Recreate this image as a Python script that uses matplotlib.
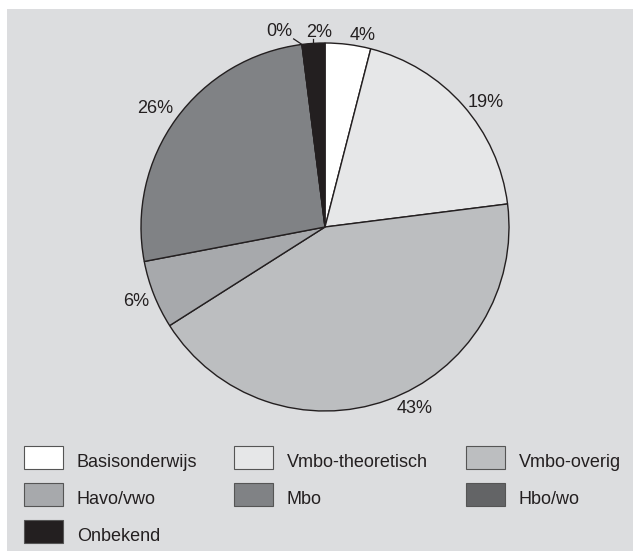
import numpy as np
import matplotlib.pyplot as plt
from matplotlib.patches import Rectangle

plt.rcParams['font.family'] = ['Liberation Sans', 'DejaVu Sans']

# Data
categories = ["Basisonderwijs", "Vmbo-theoretisch", "Vmbo-overig",
              "Havo/vwo", "Mbo", "Hbo/wo", "Onbekend"]
shares = [4, 19, 43, 6, 26, 0, 2]
colors = ["#ffffff", "#e6e7e8", "#bcbec0", "#a7a9ac", "#808285", "#636466", "#231f20"]

# label placement tweaks (degrees shift, radius factor)
label_shift = [-4, -3.5, 6.5, 0, 1, 6, -1.8]
label_dist = [1.06, 1.105, 1.10, 1.105, 1.125, 1.09, 1.055]

W, H = 633, 551
fig = plt.figure(figsize=(W / 100, H / 100), dpi=100)
fig.patch.set_facecolor("white")

# grey panel
fig.add_artist(Rectangle((7 / W, 0), 1 - 7 / W, (H - 9) / H, transform=fig.transFigure,
                         facecolor="#dcdddf", edgecolor="none", zorder=0))

# pie axes: centre (325, 227) px, radius 184 px
cx, cy, r = 325, 227, 184
ax = fig.add_axes([(cx - r) / W, (H - cy - r) / H, 2 * r / W, 2 * r / H])
ax.set_facecolor("none")
wedges, _ = ax.pie(shares, colors=colors, startangle=90, counterclock=False,
                   wedgeprops=dict(edgecolor="#231f20", linewidth=1.0))
ax.set_xlim(-1, 1)
ax.set_ylim(-1, 1)
ax.set_aspect("equal")
ax.axis("off")

for i, w in enumerate(wedges):
    mid = (w.theta1 + w.theta2) / 2
    ang = np.deg2rad(mid + label_shift[i])
    tx, ty = label_dist[i] * np.cos(ang), label_dist[i] * np.sin(ang)
    ax.text(tx, ty, f"{shares[i]}%", ha="center", va="center", fontsize=13,
            color="#231f20", clip_on=False)

# leader lines for the small slices
for i in (5, 6):
    w = wedges[i]
    mid = np.deg2rad((w.theta1 + w.theta2) / 2)
    p0 = (np.cos(mid), np.sin(mid))
    if i == 5:
        p1 = (p0[0] - 0.045, p0[1] + 0.03)
    else:
        p1 = (p0[0], p0[1] + 0.025)
    ax.plot([p0[0], p1[0]], [p0[1], p1[1]], color="#231f20", lw=0.9, clip_on=False)

# legend, row-major, 3 columns
col_x = [24, 234, 466]
row_y = [446, 483, 520]
pw, ph = 39, 23
for i, (lab, col) in enumerate(zip(categories, colors)):
    rr, cc = divmod(i, 3)
    x0, y0 = col_x[cc], row_y[rr]
    fig.add_artist(Rectangle((x0 / W, 1 - (y0 + ph) / H), pw / W, ph / H,
                             transform=fig.transFigure, facecolor=col,
                             edgecolor="#555555", linewidth=0.8))
    fig.text((x0 + 53) / W, 1 - (y0 + ph / 2 + 5) / H, lab, ha="left", va="center",
             fontsize=13, color="#231f20")

fig.savefig("out.png", dpi=100)
